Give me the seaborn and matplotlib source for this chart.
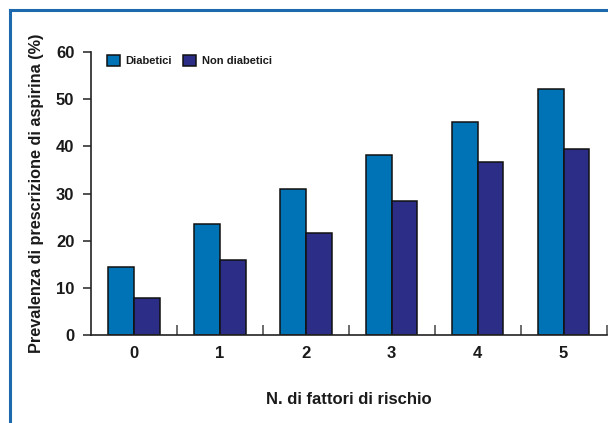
import matplotlib
matplotlib.use("Agg")
import matplotlib.pyplot as plt
from matplotlib.patches import Patch
from matplotlib.lines import Line2D
from matplotlib.ticker import FixedLocator
import seaborn as sns
import pandas as pd

# Prevalence of aspirin prescription by number of risk factors
fattori = ["0", "1", "2", "3", "4", "5"]
diabetici = [14.5, 23.5, 31.0, 38.1, 45.1, 52.1]
non_diabetici = [7.9, 15.9, 21.7, 28.4, 36.6, 39.4]
gruppi = ["Diabetici", "Non diabetici"]
y_ticks = [0, 10, 20, 30, 40, 50, 60]

df = pd.DataFrame({
    "fattori": fattori * 2,
    "valore": diabetici + non_diabetici,
    "gruppo": [gruppi[0]] * len(fattori) + [gruppi[1]] * len(fattori),
})

sns.set_theme(style="white")
plt.rcParams["font.family"] = ["Liberation Sans Narrow", "Liberation Sans", "DejaVu Sans"]
plt.rcParams["font.weight"] = "bold"
ink = "#1a1a1a"
plt.rcParams["text.color"] = ink
plt.rcParams["axes.labelcolor"] = ink
plt.rcParams["xtick.color"] = ink
plt.rcParams["ytick.color"] = ink

colori = {"Diabetici": "#0073b7", "Non diabetici": "#2b2d86"}
W, H = 608, 423
fig = plt.figure(figsize=(W / 100, H / 100), dpi=100)
fig.patch.set_facecolor("white")

# Blue frame around the panel (left and top visible)
frame_col = "#1d69ad"
fig.add_artist(Line2D([9.5 / W, 9.5 / W], [0, 1 - 10.5 / H], transform=fig.transFigure,
                      color=frame_col, lw=2.2, solid_capstyle="projecting"))
fig.add_artist(Line2D([9.5 / W, 1.0], [1 - 10.5 / H, 1 - 10.5 / H], transform=fig.transFigure,
                      color=frame_col, lw=2.2, solid_capstyle="projecting"))

left, right, top, bottom = 91, 606.5, 52, 335
ax = fig.add_axes([left / W, 1 - bottom / H, (right - left) / W, (bottom - top) / H])

sns.barplot(data=df, x="fattori", y="valore", hue="gruppo", palette=colori,
            saturation=1, width=0.6, edgecolor="#111111", linewidth=1.1, ax=ax,
            legend=False, errorbar=None)

ax.set_xlim(-0.5, len(fattori) - 0.5)
ax.set_ylim(0, 60)
ax.set_yticks(y_ticks)
ax.set_yticklabels([str(t) for t in y_ticks], fontsize=12, fontweight="bold")
ax.set_xticks(range(len(fattori)))
ax.set_xticklabels(fattori, fontsize=12, fontweight="bold")
ax.xaxis.set_minor_locator(FixedLocator([i + 0.5 for i in range(len(fattori))]))

for s in ["top", "right"]:
    ax.spines[s].set_visible(False)
for s in ["left", "bottom"]:
    ax.spines[s].set_color("#222222")
    ax.spines[s].set_linewidth(1.2)

ax.tick_params(axis="y", which="major", direction="out", length=6, width=1.1,
               color="#222222", pad=6, left=True)
ax.tick_params(axis="x", which="major", length=0, pad=8)
ax.tick_params(axis="x", which="minor", direction="in", length=7, width=1.1,
               color="#444444", bottom=True)

ax.set_xlabel("N. di fattori di rischio", fontsize=12, fontweight="bold", labelpad=22)
ax.set_ylabel("Prevalenza di prescrizione di aspirina (%)", fontsize=11.7,
              fontweight="bold")
ax.yaxis.set_label_coords(-0.092, 0.5)

handles = [Patch(facecolor=colori[g], edgecolor="#111111", linewidth=1.1, label=g)
           for g in gruppi]
ax.legend(handles=handles, loc="upper left", bbox_to_anchor=(0.015, 1.017), ncol=2,
          frameon=False, prop={"size": 8, "weight": "bold"}, handlelength=1.2,
          handleheight=1.2, handletextpad=0.5, columnspacing=1.0, borderaxespad=0.3)

fig.savefig("out.png", dpi=100, facecolor="white")
